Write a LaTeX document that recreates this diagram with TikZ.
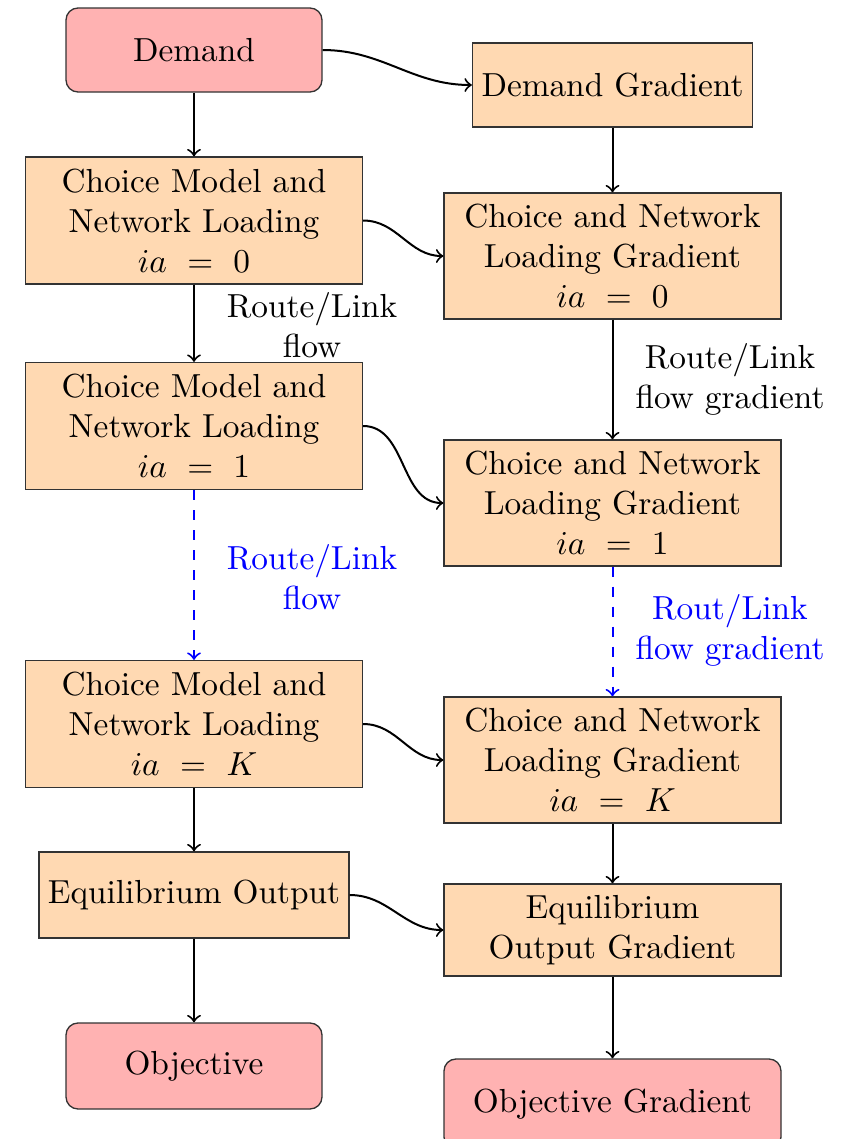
\documentclass[tikz,border=0pt]{standalone}
\begin{document}
\begin{tikzpicture}[x=0.3pt,y=-0.3pt,
  box/.style={draw=black!80, thin, fill=orange!30, align=center, inner sep=0pt},
  term/.style={box, fill=red!30, rounded corners=3.6pt},
  flow/.style={->, semithick, black},
  iter/.style={->, semithick, blue, dashed},
  note/.style={align=center, inner sep=0pt}]
\useasboundingbox (0,0) rectangle (846,1139);

% forward pass (left column)
\node[term, minimum width=76.8pt, minimum height=25.2pt] (dem) at (194,50) {Demand};
\node[box, minimum width=101.1pt, minimum height=38.1pt] (cm0) at (194,220.5)
  {Choice Model and\\Network Loading\\$ia\ =\ 0$};
\node[box, minimum width=101.1pt, minimum height=38.1pt] (cm1) at (194,426)
  {Choice Model and\\Network Loading\\$ia\ =\ 1$};
\node[box, minimum width=101.1pt, minimum height=38.1pt] (cmk) at (194,724)
  {Choice Model and\\Network Loading\\$ia\ =\ K$};
\node[box, minimum width=93pt, minimum height=25.8pt] (eq) at (194,895) {Equilibrium Output};
\node[term, minimum width=76.8pt, minimum height=25.8pt] (obj) at (194,1066) {Objective};

% gradient pass (right column)
\node[box, minimum width=84pt, minimum height=25.2pt] (dg) at (612.5,85) {Demand Gradient};
\node[box, minimum width=101.1pt, minimum height=37.8pt] (cg0) at (612.5,256)
  {Choice and Network\\Loading Gradient\\$ia\ =\ 0$};
\node[box, minimum width=101.1pt, minimum height=37.8pt] (cg1) at (612.5,503)
  {Choice and Network\\Loading Gradient\\$ia\ =\ 1$};
\node[box, minimum width=101.1pt, minimum height=37.8pt] (cgk) at (612.5,760)
  {Choice and Network\\Loading Gradient\\$ia\ =\ K$};
\node[box, minimum width=101.1pt, minimum height=27.6pt] (eqg) at (612.5,930)
  {Equilibrium\\Output Gradient};
\node[term, minimum width=101.1pt, minimum height=27pt] (objg) at (612.5,1104) {Objective Gradient};

% edge labels
\node[note] (lf0) at (312,325) {Route/Link\\flow};
\node[note] (lg0) at (730,379) {Route/Link\\flow gradient};
\node[note, text=blue] (lf1) at (312,577) {Route/Link\\flow};
\node[note, text=blue] (lg1) at (730,630) {Rout/Link\\flow gradient};

% vertical connectors
\draw[flow] (dem) -- (cm0);
\draw[flow] (cm0) -- (cm1);
\draw[iter] (cm1) -- (cmk);
\draw[flow] (cmk) -- (eq);
\draw[flow] (eq) -- (obj);
\draw[flow] (dg) -- (cg0);
\draw[flow] (cg0) -- (cg1);
\draw[iter] (cg1) -- (cgk);
\draw[flow] (cgk) -- (eqg);
\draw[flow] (eqg) -- (objg);

% cross connectors
\draw[flow] (dem.east) to[out=0,in=180] (dg.west);
\draw[flow] (cm0.east) to[out=0,in=180] (cg0.west);
\draw[flow] (cm1.east) to[out=0,in=180] (cg1.west);
\draw[flow] (cmk.east) to[out=0,in=180] (cgk.west);
\draw[flow] (eq.east) to[out=0,in=180] (eqg.west);
\end{tikzpicture}
\end{document}
